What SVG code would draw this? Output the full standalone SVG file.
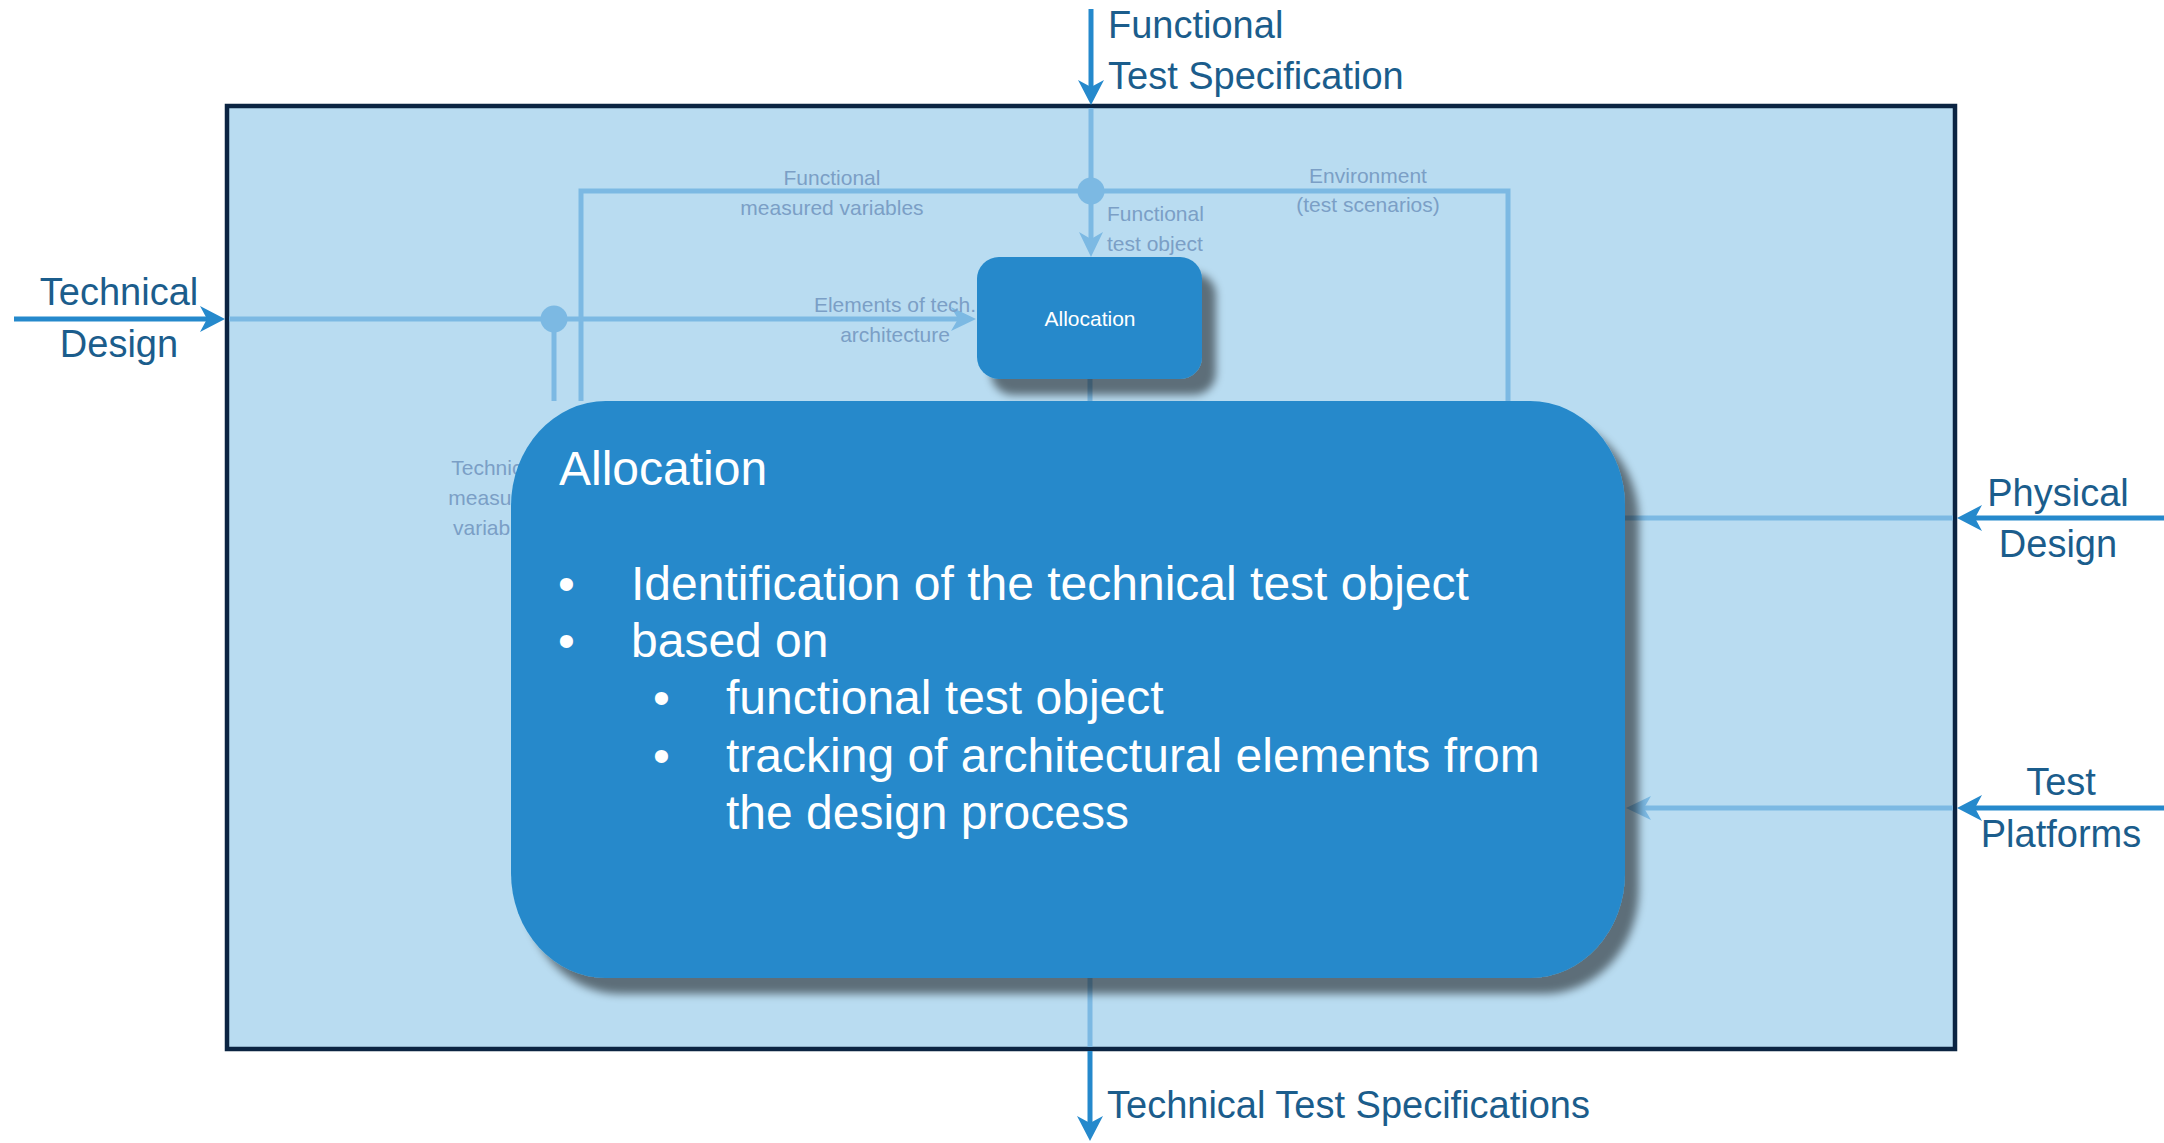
<svg xmlns="http://www.w3.org/2000/svg" width="2164" height="1143" viewBox="0 0 2164 1143">
  <defs>
    <style>
      .ext { font-family: "Liberation Sans", Arial, sans-serif; font-size: 38px; fill: #1b5d8c; }
      .lbl { font-family: "Liberation Sans", Arial, sans-serif; font-size: 21px; fill: #7b9fc6; }
      .mid { text-anchor: middle; }
      .nodetxt { font-family: "Liberation Sans", Arial, sans-serif; font-size: 21px; fill: #ffffff; text-anchor: middle; }
      .big { font-family: "Liberation Sans", Arial, sans-serif; font-size: 48px; fill: #ffffff; }
      .outer { fill: none; stroke: #2589cc; stroke-width: 5; }
      .inner { fill: none; stroke: #7cb9e3; stroke-width: 5; }
      .node { fill: #2589cb; }
    </style>
    <marker id="ahDark" viewBox="-20 -15 30 30" markerWidth="30" markerHeight="30" refX="0" refY="0" orient="auto" markerUnits="userSpaceOnUse">
      <path d="M8,0 L-17,-13 L-10,0 L-17,13 Z" fill="#2589cc"/>
    </marker>
    <marker id="ahLight" viewBox="-20 -15 30 30" markerWidth="30" markerHeight="30" refX="0" refY="0" orient="auto" markerUnits="userSpaceOnUse">
      <path d="M8,0 L-17,-12 L-10,0 L-17,12 Z" fill="#7cb9e3"/>
    </marker>
    <filter id="shadow" x="-10%" y="-10%" width="130%" height="130%">
      <feGaussianBlur in="SourceAlpha" stdDeviation="4"/>
      <feOffset dx="14" dy="16" result="o"/>
      <feComponentTransfer>
        <feFuncA type="linear" slope="0.5"/>
      </feComponentTransfer>
      <feMerge>
        <feMergeNode/>
        <feMergeNode in="SourceGraphic"/>
      </feMerge>
    </filter>
  </defs>

  <rect width="2164" height="1143" fill="#ffffff"/>

  <g id="frame">
    <rect x="227" y="106" width="1728" height="943" fill="#b9dcf1" stroke="#0b2442" stroke-width="4.5"/>
  </g>

  <g id="connectors">
    <!-- Functional Test Specification input -->
    <line class="outer" x1="1091" y1="9" x2="1091" y2="97" marker-end="url(#ahDark)"/>
    <line class="inner" x1="1091" y1="108" x2="1091" y2="191"/>
    <path class="inner" d="M1091,191 H581 V401"/>
    <path class="inner" d="M1091,191 H1508 V401"/>
    <line class="inner" x1="1091" y1="191" x2="1091" y2="249" marker-end="url(#ahLight)"/>
    <circle cx="1091" cy="191" r="13.5" fill="#7cb9e3"/>

    <!-- Technical Design input -->
    <line class="outer" x1="14" y1="319" x2="217" y2="319" marker-end="url(#ahDark)"/>
    <line class="inner" x1="229" y1="319" x2="968" y2="319" marker-end="url(#ahLight)"/>
    <line class="inner" x1="554" y1="319" x2="554" y2="401"/>
    <circle cx="554" cy="319" r="13.5" fill="#7cb9e3"/>

    <!-- Physical Design input -->
    <line class="outer" x1="2164" y1="518" x2="1965" y2="518" marker-end="url(#ahDark)"/>
    <line class="inner" x1="1953" y1="518" x2="1600" y2="518"/>

    <!-- Test Platforms input -->
    <line class="outer" x1="2164" y1="808" x2="1965" y2="808" marker-end="url(#ahDark)"/>
    <line class="inner" x1="1953" y1="808" x2="1634" y2="808" marker-end="url(#ahLight)"/>

    <!-- Output -->
    <line class="inner" x1="1090" y1="370" x2="1090" y2="405"/>
    <line class="inner" x1="1090" y1="970" x2="1090" y2="1047"/>
    <line class="outer" x1="1090" y1="1051" x2="1090" y2="1133" marker-end="url(#ahDark)"/>

    <!-- connector labels -->
    <text class="lbl mid" x="832" y="185">Functional</text>
    <text class="lbl mid" x="832" y="215">measured variables</text>
    <text class="lbl mid" x="895" y="312">Elements of tech.</text>
    <text class="lbl mid" x="895" y="342">architecture</text>
    <text class="lbl" x="1107" y="221">Functional</text>
    <text class="lbl" x="1107" y="251">test object</text>
    <text class="lbl mid" x="1368" y="183">Environment</text>
    <text class="lbl mid" x="1368" y="212">(test scenarios)</text>
    <text class="lbl mid" x="495" y="475">Technical</text>
    <text class="lbl mid" x="495" y="505">measured</text>
    <text class="lbl mid" x="495" y="535">variables</text>
  </g>

  <g id="external-labels">
    <text class="ext" x="1108" y="38">Functional</text>
    <text class="ext" x="1108" y="89">Test Specification</text>
    <text class="ext mid" x="119" y="305">Technical</text>
    <text class="ext mid" x="119" y="357">Design</text>
    <text class="ext mid" x="2058" y="506">Physical</text>
    <text class="ext mid" x="2058" y="557">Design</text>
    <text class="ext mid" x="2061" y="795">Test</text>
    <text class="ext mid" x="2061" y="847">Platforms</text>
    <text class="ext" x="1107" y="1118">Technical Test Specifications</text>
  </g>

  <g id="node-allocation">
    <rect class="node" x="977" y="257" width="225" height="122" rx="22" ry="22" filter="url(#shadow)"/>
    <text class="nodetxt" x="1090" y="326">Allocation</text>
  </g>

  <g id="callout-allocation">
    <rect class="node" x="511" y="401" width="1114" height="577" rx="95" ry="105" filter="url(#shadow)"/>
    <text class="big" x="559" y="485">Allocation</text>
    <text class="big" x="558" y="600">•</text>
    <text class="big" x="631" y="600">Identification of the technical test object</text>
    <text class="big" x="558" y="657">•</text>
    <text class="big" x="631" y="657">based on</text>
    <text class="big" x="653" y="714">•</text>
    <text class="big" x="726" y="714">functional test object</text>
    <text class="big" x="653" y="772">•</text>
    <text class="big" x="726" y="772">tracking of architectural elements from</text>
    <text class="big" x="726" y="829">the design process</text>
  </g>
</svg>
